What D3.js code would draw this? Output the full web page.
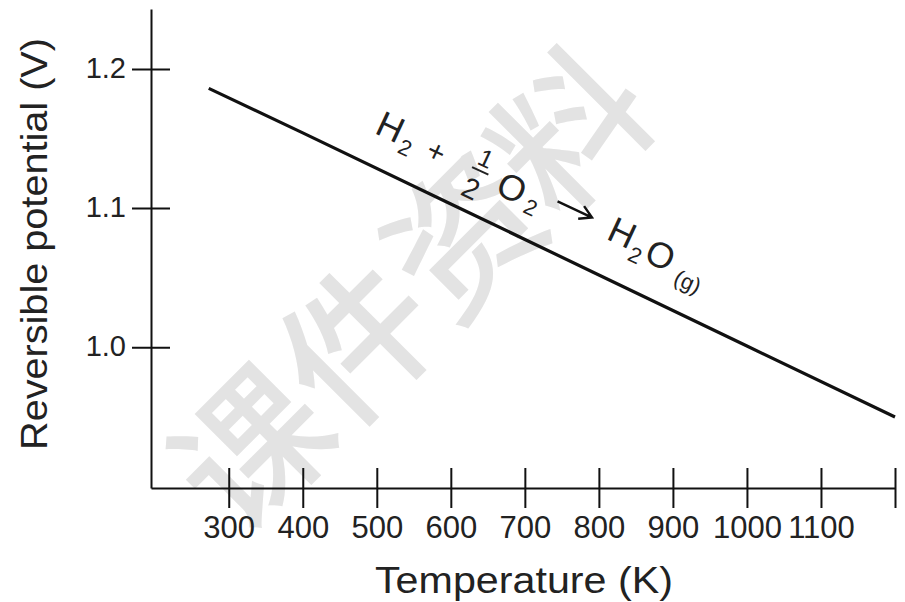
<!DOCTYPE html>
<html>
<head>
<meta charset="utf-8">
<title>Reversible potential vs temperature</title>
<script src="https://d3js.org/d3.v7.min.js"></script>
<style>
  body { margin: 0; background: #fff; }
  svg text { font-family: "Liberation Sans", Arial, sans-serif; fill: #222; }
</style>
</head>
<body>
<div id="chart"></div>
<script>
// values
var temps = [273, 400, 600, 800, 1000, 1200];                  // K
var potentials = [1.186, 1.154, 1.103, 1.052, 1.001, 0.950];   // V
var xTicks = [300, 400, 500, 600, 700, 800, 900, 1000, 1100, 1200];
var xTickLabels = ["300", "400", "500", "600", "700", "800", "900", "1000", "1100", ""];
var yTicks = [1.0, 1.1, 1.2];
var yTickLabels = ["1.0", "1.1", "1.2"];
var watermark = "课件资料";

var width = 905, height = 602;
var svg = d3.select("#chart").append("svg")
  .attr("width", width)
  .attr("height", height);

var x = d3.scaleLinear().domain([195, 1200]).range([151, 895]);
var y = d3.scaleLinear().domain([0.899, 1.243]).range([488, 9]);

// watermark behind everything
svg.append("text")
  .attr("transform", "translate(404,282) rotate(-45)")
  .attr("text-anchor", "middle")
  .attr("dominant-baseline", "central")
  .style("font-family", '"Noto Sans CJK SC", sans-serif')
  .style("font-weight", 500)
  .style("font-size", "150px")
  .style("fill", "#e3e3e3")
  .text(watermark);

// x axis, ticks cross the line
var gx = svg.append("g")
  .attr("transform", "translate(0," + y.range()[0] + ")")
  .call(d3.axisBottom(x)
    .tickValues(xTicks)
    .tickSize(20)
    .tickSizeOuter(0)
    .tickFormat(function (d, i) { return xTickLabels[i]; }));
gx.attr("font-size", null).attr("font-family", null);
gx.select(".domain").attr("stroke", "#111").attr("stroke-width", 2);
gx.selectAll(".tick line").attr("y1", -20).attr("stroke", "#111").attr("stroke-width", 2);
gx.selectAll(".tick text").attr("y", 50).attr("dy", null)
  .style("font-size", "31px").style("fill", "#222");

// y axis
var gy = svg.append("g")
  .attr("transform", "translate(" + x.range()[0] + ",0)")
  .call(d3.axisLeft(y)
    .tickValues(yTicks)
    .tickSize(19)
    .tickSizeOuter(0)
    .tickFormat(function (d, i) { return yTickLabels[i]; }));
gy.attr("font-size", null).attr("font-family", null);
gy.select(".domain").attr("stroke", "#111").attr("stroke-width", 2);
gy.selectAll(".tick line").attr("x1", 19).attr("stroke", "#111").attr("stroke-width", 2);
gy.selectAll(".tick text").attr("x", -25).attr("dy", "0.28em")
  .style("font-size", "29px").style("fill", "#222");

// axis titles
svg.append("text")
  .attr("x", 524).attr("y", 593)
  .attr("text-anchor", "middle")
  .attr("textLength", 298).attr("lengthAdjust", "spacingAndGlyphs")
  .style("font-size", "36px")
  .text("Temperature (K)");

svg.append("text")
  .attr("transform", "translate(47,244) rotate(-90)")
  .attr("text-anchor", "middle")
  .attr("textLength", 412).attr("lengthAdjust", "spacingAndGlyphs")
  .style("font-size", "36px")
  .text("Reversible potential (V)");

// the line
var line = d3.line()
  .x(function (d, i) { return x(temps[i]); })
  .y(function (d) { return y(d); });

svg.append("path")
  .datum(potentials)
  .attr("d", line)
  .attr("fill", "none")
  .attr("stroke", "#111")
  .attr("stroke-width", 3.2);

// reaction label, laid along the line
var ann = svg.append("g")
  .attr("transform", "translate(" + x(516) + "," + y(1.159) + ") rotate(25)");

var pieces = [
  { t: "H", u: 2, v: 0, s: 36 },
  { t: "2", u: 24, v: 13, s: 22 },
  { t: "+", u: 54, v: 3, s: 30 },
  { t: "1", u: 102, v: -12, s: 25 },
  { t: "2", u: 101, v: 22, s: 29 },
  { t: "O", u: 138, v: 4, s: 36 },
  { t: "2", u: 163, v: 14, s: 22 },
  { t: "H", u: 257, v: -2, s: 36 },
  { t: "2", u: 278, v: 13, s: 22 },
  { t: "O", u: 301, v: 2, s: 36 },
  { t: "(g)", u: 337, v: 15, s: 22 }
];
ann.selectAll("text.piece")
  .data(pieces)
  .enter().append("text")
  .attr("class", "piece")
  .attr("x", function (d) { return d.u; })
  .attr("y", function (d) { return d.v; })
  .attr("text-anchor", "middle")
  .attr("dominant-baseline", "central")
  .style("font-size", function (d) { return d.s + "px"; })
  .text(function (d) { return d.t; });

// fraction bar and arrow
ann.append("line")
  .attr("x1", 93).attr("x2", 111).attr("y1", 2).attr("y2", 2)
  .attr("stroke", "#222").attr("stroke-width", 2);
ann.append("path")
  .attr("d", "M185,-3H222M211,-10L223,-3L211,4")
  .attr("fill", "none")
  .attr("stroke", "#111")
  .attr("stroke-width", 2.4);
</script>
</body>
</html>
